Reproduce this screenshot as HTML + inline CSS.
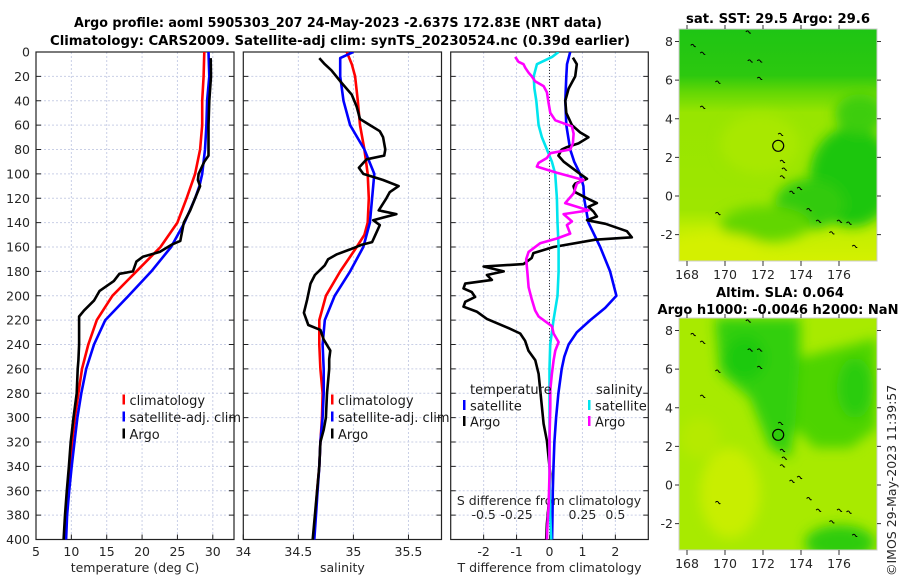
<!DOCTYPE html>
<html><head><meta charset="utf-8">
<style>
html,body{margin:0;padding:0;background:#fff;}
svg{display:block;font-family:"DejaVu Sans","Liberation Sans",sans-serif;}
.tk{font-size:12.5px;fill:#262626;}
.ttl{font-size:13.5px;font-weight:bold;fill:#000;}
.lg{font-size:13px;fill:#1a1a1a;}
</style></head>
<body>
<svg id="chart" width="900" height="580" viewBox="0 0 900 580">
<defs>
<linearGradient id="m1bg" x1="0" y1="0" x2="0" y2="1">
<stop offset="0" stop-color="#1ec514"/><stop offset="0.2" stop-color="#2cc80f"/><stop offset="0.27" stop-color="#62d705"/><stop offset="0.36" stop-color="#98e500"/><stop offset="0.78" stop-color="#9ee600"/><stop offset="0.86" stop-color="#c0ee00"/><stop offset="1" stop-color="#d4f000"/></linearGradient>
<filter id="blur"><feGaussianBlur stdDeviation="6"/></filter>
<clipPath id="cm1"><rect x="679" y="29" width="198" height="232"/></clipPath>
<clipPath id="cm2"><rect x="679" y="318" width="198" height="232"/></clipPath>
<clipPath id="cp1"><rect x="36" y="52" width="198" height="488"/></clipPath>
<clipPath id="cp2"><rect x="243" y="52" width="198" height="488"/></clipPath>
<clipPath id="cp3"><rect x="451" y="52" width="197" height="488"/></clipPath>
</defs>
<text class="ttl" x="338" y="27" text-anchor="middle" textLength="528" lengthAdjust="spacingAndGlyphs">Argo profile: aoml 5905303_207 24-May-2023 -2.637S 172.83E (NRT data)</text>
<text class="ttl" x="340" y="45" text-anchor="middle" textLength="580" lengthAdjust="spacingAndGlyphs">Climatology: CARS2009. Satellite-adj clim: synTS_20230524.nc (0.39d earlier)</text>
<g id="axes"></g>
<g id="maps"></g>
</svg>
<script>
// ---------- data ----------
const depthTicks = [0,20,40,60,80,100,120,140,160,180,200,220,240,260,280,300,320,340,360,380,400];
const tempTicks = [5,10,15,20,25,30];
const salTicks = [34,34.5,35,35.5];
const salTickLabels = ["34","34.5","35","35.5"];
const tdiffTicks = [-2,-1,0,1,2];
const sdiffTicks = [-0.5,-0.25,0,0.25,0.5];
const sdiffTickLabels = ["-0.5","-0.25","0","0.25","0.5"];

const climTDepth = [0,20,40,60,80,100,120,140,160,180,200,220,240,260,280,300,320,340,360,380,400];
const climT = [28.8,28.7,28.5,28.5,28.2,27.5,26.3,25.0,22.6,19.2,15.8,13.6,12.4,11.5,11.0,10.5,10.1,9.8,9.5,9.25,9.05];
const satTDepth = [0,20,40,60,80,100,110,120,140,160,180,200,220,240,260,280,300,320,340,360,380,400];
const satT = [29.4,29.5,29.2,29.1,28.9,28.5,28.1,27.5,26.0,24.1,21.3,18.1,14.8,13.2,12.1,11.4,10.85,10.45,10.05,9.7,9.4,9.25];
const argoTDepth = [5,20,40,60,85,90,100,105,110,120,130,140,155,158,164,168,172,180,182,188,196,204,212,217,240,253,260,280,300,320,340,360,380,400];
const argoT = [29.7,29.75,29.5,29.4,29.4,28.8,28.0,27.9,28.2,27.5,26.8,25.9,25.4,24.2,22.5,20.1,19.2,18.7,16.8,16.0,14.0,13.2,11.8,11.1,11.1,11.0,10.9,10.75,10.3,9.9,9.65,9.35,9.1,8.9];

const climSDepth = [0,10,20,40,60,80,100,120,140,150,160,180,200,220,240,260,280,300,320,340,360,380,400];
const climS = [34.94,34.985,35.015,35.04,35.06,35.1,35.13,35.14,35.13,35.1,35.03,34.88,34.75,34.69,34.69,34.70,34.72,34.715,34.70,34.69,34.67,34.655,34.64];
const satSDepth = [0,5,20,40,60,80,100,120,140,160,180,200,220,240,260,280,300,320,340,360,380,400];
const satS = [35.0,34.88,34.88,34.91,34.97,35.1,35.19,35.17,35.15,35.09,34.97,34.83,34.74,34.72,34.73,34.73,34.72,34.70,34.69,34.675,34.66,34.645];
const argoSDepth = [5,10,15,25,35,45,55,60,65,70,80,85,88,95,100,105,110,115,120,130,133,138,142,150,156,158,162,166,170,175,183,190,203,214,224,228,236,245,252,260,280,300,310,320,340,360,380,400];
const argoS = [34.69,34.74,34.80,34.89,34.985,35.03,35.06,35.15,35.24,35.27,35.29,35.28,35.12,35.05,35.09,35.27,35.41,35.33,35.30,35.23,35.39,35.18,35.24,35.20,35.17,35.08,34.97,34.85,34.77,34.74,34.65,34.61,34.58,34.55,34.59,34.70,34.73,34.79,34.78,34.78,34.76,34.75,34.73,34.70,34.69,34.67,34.65,34.63];

const satTdDepth = [0,10,20,40,60,80,90,100,110,120,140,160,180,200,210,220,230,240,250,260,280,300,320,340,360,380,400];
const satTd = [0.63,0.53,0.51,0.48,0.51,0.63,0.75,0.93,1.03,1.05,1.18,1.54,1.84,2.03,1.69,1.24,0.83,0.58,0.45,0.37,0.27,0.2,0.15,0.12,0.1,0.09,0.08];
const argoTdDepth = [4.6,10,20,30,40,50,60,66,70,75,78,80,85,90,100,104,108,110,115,120,124,127,131,135,138,141,147,152,154,160,165,169,174,176,180,183,187,190,194,197,201,205,209,213,219,226,231,237,245,253,264,278,291,305,319,332,346,360,373,387,400];
const argoTd = [0.71,0.83,0.78,0.58,0.48,0.51,0.68,0.93,1.18,0.88,0.53,0.37,0.27,0.43,0.93,1.14,0.78,0.73,0.78,1.14,1.44,1.18,1.34,1.44,1.14,1.7,2.35,2.5,1.39,0.12,-0.49,-0.54,-0.79,-2.0,-1.39,-1.9,-1.75,-2.56,-2.61,-2.36,-2.26,-2.56,-2.61,-2.21,-1.9,-1.29,-0.89,-0.74,-0.64,-0.43,-0.33,-0.28,-0.23,-0.18,-0.08,-0.03,0.02,0,-0.03,-0.08,-0.1];
const satSdDepth = [0,4,10,20,30,40,60,70,80,90,100,120,140,160,180,200,220,240,260,300,340,380,400];
const satSd = [0.069,0.02,-0.096,-0.12,-0.115,-0.1,-0.083,-0.058,-0.02,0.018,0.043,0.056,0.061,0.069,0.069,0.061,0.03,0.005,0,0,0,0.005,0.013];
const argoSdDepth = [4,8,10,13,17,20,24,28,33,42,50,56,61,67,75,80,83,87,91,94,99,105,108,116,124,130,133,139,142,149,153,157,164,170,182,193,203,212,217,225,231,238,245,253,264,277,291,318,346,373,387,400];
const argoSd = [-0.26,-0.235,-0.197,-0.184,-0.159,-0.134,-0.109,-0.045,-0.02,-0.007,0.006,0.044,0.17,0.183,0.178,0.157,0.006,-0.02,-0.083,-0.096,0.056,0.259,0.208,0.183,0.119,0.297,0.107,0.17,0.132,0.157,0.056,-0.071,-0.159,-0.177,-0.167,-0.159,-0.134,-0.109,-0.083,0.018,0.031,0.069,0.044,0.031,0.018,0.006,0.006,0,0,-0.007,-0.015,-0.02];

const lonTicks = [168,170,172,174,176];
const latTicks = [8,6,4,2,0,-2];
const argoLon = 172.8, argoLat = 2.6;

// ---------- helpers ----------
const NS = "http://www.w3.org/2000/svg";
const axes = document.getElementById('axes');
function mk(tag, attrs, parent){ const e=document.createElementNS(NS,tag); for(const k in attrs) e.setAttribute(k,attrs[k]); (parent||axes).appendChild(e); return e; }
const Y0=52, Y1=539.5;
const yD = d => Y0 + d/400*(Y1-Y0);
function lin(d0,d1,r0,r1){ return v => r0 + (v-d0)/(d1-d0)*(r1-r0); }
const panels = [
 {x0:36, x1:234, dom:[5,33], ticks:tempTicks, labels:tempTicks.map(String), title:"temperature (deg C)", clip:"cp1", name:"temperature"},
 {x0:243.3, x1:441.5, dom:[34,35.8], ticks:salTicks, labels:salTickLabels, title:"salinity", clip:"cp2", name:"salinity"},
 {x0:450.7, x1:648.3, dom:[-3,3], ticks:tdiffTicks, labels:tdiffTicks.map(String), title:"T difference from climatology", clip:"cp3", name:"difference"}
];
function line(xs, ds, sx, color, clip, name, w){
  const pts = xs.map((v,i)=> sx(v).toFixed(1)+","+yD(ds[i]).toFixed(1)).join(" ");
  const p = mk('polyline',{points:pts,fill:'none',stroke:color,'stroke-width':w||2.6,'stroke-linejoin':'round','clip-path':'url(#'+clip+')'});
  
  
  return p;
}
panels.forEach((P,pi)=>{
  const sx = lin(P.dom[0],P.dom[1],P.x0,P.x1);
  P.sx = sx;
  const g = mk('g',{});
  
  
  depthTicks.forEach(d=>{ if(d>0&&d<400) mk('line',{x1:P.x0,x2:P.x1,y1:yD(d),y2:yD(d),stroke:'#c9cfe6','stroke-width':1,'stroke-dasharray':'2,2'},g); });
  P.ticks.forEach(t=>{ const x=sx(t); if(x>P.x0+1&&x<P.x1-1) mk('line',{x1:x,x2:x,y1:Y0,y2:Y1,stroke:'#c9cfe6','stroke-width':1,'stroke-dasharray':'2,2'},g); });
  depthTicks.forEach(d=>{ mk('line',{x1:P.x0,x2:P.x0+5,y1:yD(d),y2:yD(d),stroke:'#222'},g); mk('line',{x1:P.x1-5,x2:P.x1,y1:yD(d),y2:yD(d),stroke:'#222'},g); });
  P.ticks.forEach((t,i)=>{ const x=sx(t);
    mk('line',{x1:x,x2:x,y1:Y1,y2:Y1-5,stroke:'#222'},g);
    const tx=mk('text',{x:x,y:556,'text-anchor':'middle',class:'tk'},g); tx.textContent=P.labels[i];
    
    
  });
  mk('rect',{x:P.x0,y:Y0,width:P.x1-P.x0,height:Y1-Y0,fill:'none',stroke:'#222','stroke-width':1.2},g);
  const tt=mk('text',{x:(P.x0+P.x1)/2,y:572,'text-anchor':'middle',class:'tk'},g); tt.textContent=P.title;
  
  
});
depthTicks.forEach(d=>{ const t=mk('text',{x:30,y:yD(d)+4.5,'text-anchor':'end',class:'tk'}); t.textContent=d;
  
   });
mk('line',{x1:panels[2].sx(0),x2:panels[2].sx(0),y1:Y0,y2:Y1,stroke:'#333','stroke-width':1,'stroke-dasharray':'1,2'});
const sdx = lin(-0.75,0.75,panels[2].x0,panels[2].x1);
const sdt = mk('text',{x:549,y:505,'text-anchor':'middle',class:'tk'}); sdt.textContent='S difference from climatology';


sdiffTicks.forEach((v,i)=>{ const t=mk('text',{x:sdx(v),y:519,'text-anchor':'middle',class:'tk'}); t.textContent=sdiffTickLabels[i];
  
   });

const s1=panels[0].sx, s2=panels[1].sx, s3=panels[2].sx;
line(climT, climTDepth, s1, '#ff0000','cp1','temp-climatology-line');
line(satT, satTDepth, s1, '#0000ff','cp1','temp-satellite-line');
line(argoT, argoTDepth, s1, '#000000','cp1','temp-argo-line');
line(climS, climSDepth, s2, '#ff0000','cp2','sal-climatology-line');
line(satS, satSDepth, s2, '#0000ff','cp2','sal-satellite-line');
line(argoS, argoSDepth, s2, '#000000','cp2','sal-argo-line');
line(satTd, satTdDepth, s3, '#0000ff','cp3','tdiff-satellite-line');
line(argoTd, argoTdDepth, s3, '#000000','cp3','tdiff-argo-line');
line(satSd, satSdDepth, sdx, '#00e5ee','cp3','sdiff-satellite-line');
line(argoSd, argoSdDepth, sdx, '#ff00ff','cp3','sdiff-argo-line');

function legend(x, y, color, label, name){
  const g=mk('g',{});
  
  
  mk('rect',{x:x,y:y-6,width:2.5,height:10,fill:color},g);
  const t=mk('text',{x:x+7,y:y+4.5,class:'lg'},g); t.textContent=label;
}
legend(122.5,400.5,'#ff0000','climatology','legend-temp-climatology');
legend(122.5,417.5,'#0000ff','satellite-adj. clim','legend-temp-satellite');
legend(122.5,434.5,'#000000','Argo','legend-temp-argo');
legend(331,400.5,'#ff0000','climatology','legend-sal-climatology');
legend(331,417.5,'#0000ff','satellite-adj. clim','legend-sal-satellite');
legend(331,434.5,'#000000','Argo','legend-sal-argo');
let lt=mk('text',{x:470,y:394,class:'lg'}); lt.textContent='temperature';


lt=mk('text',{x:596,y:394,class:'lg'}); lt.textContent='salinity';


legend(463,406,'#0000ff','satellite','legend-tdiff-satellite');
legend(463,422,'#000000','Argo','legend-tdiff-argo');
legend(588,406,'#00e5ee','satellite','legend-sdiff-satellite');
legend(588,422,'#ff00ff','Argo','legend-sdiff-argo');

// ---------- maps ----------
const maps = document.getElementById('maps');
const mx = lin(168,176,687,839);
function drawMap(top, clip, kind, name){
  const my = lin(0,8,top+167,top+12.5);
  const g=mk('g',{},maps);
  
  
  const img=mk('g',{'clip-path':'url(#'+clip+')'},g);
  if(kind===1){
    mk('rect',{x:679,y:top,width:198,height:232,fill:'url(#m1bg)'},img);
    const b=mk('g',{filter:'url(#blur)'},img);
    mk('ellipse',{cx:852,cy:top+148,rx:42,ry:50,fill:'#1fc60f'},b);
    mk('ellipse',{cx:810,cy:top+175,rx:35,ry:25,fill:'#30ca0c'},b);
    mk('ellipse',{cx:765,cy:top+195,rx:45,ry:18,fill:'#62d605'},b);
    mk('ellipse',{cx:760,cy:top+115,rx:40,ry:30,fill:'#a8e800'},b);
    mk('ellipse',{cx:860,cy:top+85,rx:25,ry:20,fill:'#3ccd0a'},b);
    mk('ellipse',{cx:715,cy:top+222,rx:50,ry:18,fill:'#d4f000'},b);
  } else {
    mk('rect',{x:679,y:top,width:198,height:232,fill:'#a8ea00'},img);
    const b=mk('g',{filter:'url(#blur)'},img);
    mk('polygon',{points:`715,${top} 800,${top} 800,${top+80} 790,${top+140} 770,${top+130} 750,${top+80} 720,${top+55}`,fill:'#33cf08'},b);
    mk('ellipse',{cx:745,cy:top+40,rx:20,ry:22,fill:'#1fc90c'},b);
    mk('polygon',{points:`800,${top+40} 877,${top+20} 877,${top+110} 850,${top+130} 815,${top+130} 795,${top+110}`,fill:'#4ed406'},b);
    mk('ellipse',{cx:855,cy:top+70,rx:18,ry:30,fill:'#2ccc0a'},b);
    mk('ellipse',{cx:840,cy:top+225,rx:35,ry:18,fill:'#2fcc0a'},b);
    mk('ellipse',{cx:730,cy:top+175,rx:30,ry:45,fill:'#c8ee00'},b);
    mk('ellipse',{cx:700,cy:top+120,rx:20,ry:20,fill:'#b5ea00'},b);
  }
  const isl=[[168.3,7.8],[168.8,7.4],[169.6,5.9],[171.3,7.0],[171.8,7.0],[171.8,6.1],[168.8,4.6],[172.9,3.2],[173.0,1.8],[173.1,1.4],[173.0,1.0],[173.5,0.2],[173.9,0.4],[174.4,-0.7],[174.9,-1.3],[175.6,-1.9],[176.0,-1.3],[176.5,-1.4],[176.8,-2.6],[169.6,-0.9],[171.2,8.5]];
  isl.forEach(p=>{ mk('path',{d:`M${mx(p[0])-2},${my(p[1])} q2,-2 3,0 q1,2 2,1`,stroke:'#000','stroke-width':1,fill:'none'},img); });
  const c=mk('circle',{cx:mx(argoLon),cy:my(argoLat),r:5.5,fill:kind===2?'#2fcc0a':'none',stroke:'#000','stroke-width':1.2},g);
  
  
  mk('rect',{x:679,y:top,width:198,height:232,fill:'none',stroke:'#ccc','stroke-width':1},g);
  latTicks.forEach(l=>{ const y=my(l);
    mk('line',{x1:675,x2:679,y1:y,y2:y,stroke:'#333'},g); mk('line',{x1:877,x2:881,y1:y,y2:y,stroke:'#333'},g);
    const t=mk('text',{x:673,y:y+4.5,'text-anchor':'end',class:'tk'},g); t.textContent=l;
    
     });
  lonTicks.forEach(l=>{ const x=mx(l);
    mk('line',{x1:x,x2:x,y1:top+232,y2:top+237,stroke:'#333'},g); mk('line',{x1:x,x2:x,y1:top-4,y2:top,stroke:'#333'},g);
    const t=mk('text',{x:x,y:top+250,'text-anchor':'middle',class:'tk'},g); t.textContent=l;
    
     });
}
drawMap(29,'cm1',1,'sst-map');
drawMap(318,'cm2',2,'sla-map');
function ttl(x,y,txt,len,name){ const t=mk('text',{x:x,y:y,'text-anchor':'middle',class:'ttl',textLength:len,lengthAdjust:'spacingAndGlyphs'},maps); t.textContent=txt;
  
   }
ttl(778,23,'sat. SST: 29.5 Argo: 29.6',184,'sst-map-title');
ttl(780,297,'Altim. SLA: 0.064',128,'sla-map-title');
ttl(778,314,'Argo h1000: -0.0046 h2000: NaN',241,'sla-map-subtitle');
const cr=mk('text',{x:0,y:0,class:'tk',transform:'translate(896,576) rotate(-90)'},maps); cr.textContent='©IMOS 29-May-2023 11:39:57';


</script>
</body></html>
